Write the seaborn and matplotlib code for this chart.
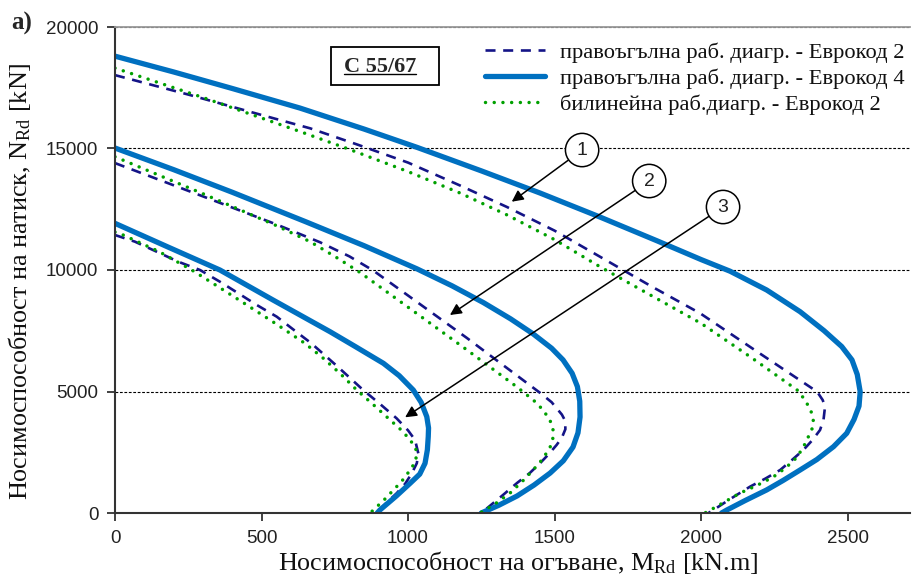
import numpy as np
import pandas as pd
import matplotlib
matplotlib.use('Agg')
import matplotlib.pyplot as plt
import seaborn as sns

# interaction curves M_Rd - N_Rd (three sections)
# series: rectangular EC2 (dashed), rectangular EC4 (solid), bilinear EC2 (dotted)

# section 1 (outer curves)
m1_rect_ec2 = [0, 250, 500, 666, 830, 1000, 1177, 1338, 1500, 1655, 1830, 1997, 2200, 2396,
               2415, 2423, 2418, 2406, 2380, 2349, 2310, 2270, 2220, 2167, 2100, 2042, 2025]
n1_rect_ec2 = [18020, 17220, 16380, 15830, 15150, 14420, 13480, 12590, 11620, 10547, 9330, 8217, 6570, 4992,
               4650, 4375, 3850, 3415, 3000, 2592, 2180, 1770, 1420, 1083, 580, 123, 0]
m1_rect_ec4 = [0, 200, 400, 631, 850, 1030, 1250, 1450, 1655, 1850, 2000, 2099, 2224, 2338, 2420, 2480,
               2515, 2533, 2543, 2539, 2522, 2497, 2452, 2395, 2338, 2280, 2224, 2150, 2088, 2070]
n1_rect_ec4 = [18800, 18150, 17470, 16665, 15800, 15050, 14080, 13170, 12180, 11200, 10430, 9950, 9176, 8284, 7500, 6850,
               6300, 5700, 4990, 4400, 3850, 3280, 2730, 2200, 1770, 1340, 950, 510, 123, 0]
m1_bilin_ec2 = [0, 300, 631, 792, 1000, 1177, 1338, 1500, 1655, 1830, 2000, 2170, 2328,
                2355, 2375, 2383, 2380, 2372, 2355, 2328, 2290, 2246, 2190, 2133, 2075, 2020, 2012]
n1_bilin_ec2 = [18310, 17100, 15700, 15000, 14050, 13170, 12265, 11250, 10135, 8950, 7805, 6410, 5060,
                4650, 4200, 3830, 3500, 3290, 2850, 2300, 1870, 1480, 1130, 820, 420, 40, 0]

# section 2 (middle curves)
m2_rect_ec2 = [0, 300, 550, 700, 800, 881, 1000, 1200, 1451, 1490, 1525, 1536, 1537, 1525,
               1507, 1480, 1451, 1415, 1372, 1320, 1270, 1245]
n2_rect_ec2 = [14400, 13030, 11880, 11140, 10560, 9980, 8950, 7210, 4940, 4560, 4050, 3800, 3450, 3100,
               2800, 2420, 2055, 1640, 1235, 700, 200, 0]
m2_rect_ec4 = [0, 200, 400, 650, 850, 1030, 1150, 1257, 1350, 1427, 1490, 1529, 1560, 1578, 1586,
               1587, 1580, 1563, 1530, 1485, 1430, 1372, 1310, 1250]
n2_rect_ec4 = [15020, 14130, 13200, 11990, 11000, 10050, 9350, 8660, 7990, 7370, 6780, 6300, 5750, 5200, 4600,
               3950, 3300, 2715, 2150, 1645, 1150, 700, 320, 0]
m2_bilin_ec2 = [0, 300, 550, 666, 750, 836, 1000, 1200, 1372, 1430, 1461, 1485, 1495, 1494,
                1485, 1460, 1427, 1390, 1348, 1300, 1246]
n2_bilin_ec2 = [14660, 13140, 11830, 11165, 10560, 9900, 8470, 6720, 5185, 4620, 4240, 3800, 3415, 3050,
                2715, 2230, 1770, 1300, 820, 400, 0]

# section 3 (inner curves)
m3_rect_ec2 = [0, 68, 154, 216, 290, 358, 421, 484, 552, 614, 670, 760, 847, 905, 961, 1000,
               1024, 1035, 1030, 1013, 990, 961, 925, 890]
n3_rect_ec2 = [11440, 11166, 10687, 10341, 10000, 9518, 9040, 8559, 8078, 7500, 6983, 6020, 5060, 4480, 3896, 3400,
               3004, 2456, 2050, 1633, 1200, 810, 400, 0]
m3_rect_ec4 = [0, 180, 358, 540, 734, 820, 916, 970, 1018, 1045, 1064, 1070, 1069, 1066,
               1058, 1040, 1007, 960, 904, 895]
n3_rect_ec4 = [11920, 10950, 10000, 8760, 7460, 6850, 6160, 5650, 5060, 4550, 3963, 3500, 3140, 2600,
               2045, 1600, 1222, 700, 123, 0]
m3_bilin_ec2 = [0, 28, 150, 262, 350, 450, 550, 648, 711, 770, 825, 885, 939, 980, 1007, 1025,
                1030, 1025, 1007, 985, 961, 920, 880, 870]
n3_bilin_ec2 = [11560, 11440, 10760, 10000, 9330, 8560, 7780, 6983, 6366, 5720, 5060, 4420, 3827, 3380, 3004, 2700,
                2456, 2100, 1770, 1400, 1083, 560, 100, 0]

series_names = ['правоъгълна раб. диагр. - Еврокод 2',
                'правоъгълна раб. диагр. - Еврокод 4',
                'билинейна раб.диагр. - Еврокод 2']
marker_labels = ['1', '2', '3']

curves = [
    (1, series_names[0], m1_rect_ec2, n1_rect_ec2),
    (2, series_names[0], m2_rect_ec2, n2_rect_ec2),
    (3, series_names[0], m3_rect_ec2, n3_rect_ec2),
    (1, series_names[1], m1_rect_ec4, n1_rect_ec4),
    (2, series_names[1], m2_rect_ec4, n2_rect_ec4),
    (3, series_names[1], m3_rect_ec4, n3_rect_ec4),
    (1, series_names[2], m1_bilin_ec2, n1_bilin_ec2),
    (2, series_names[2], m2_bilin_ec2, n2_bilin_ec2),
    (3, series_names[2], m3_bilin_ec2, n3_bilin_ec2),
]
df = pd.concat([pd.DataFrame({'M': m, 'N': n, 'section': g, 'series': s})
                for g, s, m, n in curves], ignore_index=True)

sns.set_theme(style='white')
plt.rcParams['font.family'] = ['Liberation Serif', 'DejaVu Serif']
plt.rcParams['mathtext.fontset'] = 'stix'

styles = {
    series_names[0]: dict(color='#141487', lw=1.9, ls=(0, (3.8, 2.9)), dash_capstyle='butt'),
    series_names[1]: dict(color='#0070c0', lw=3.8, ls='-', solid_capstyle='round'),
    series_names[2]: dict(color='#00a000', lw=2.5, ls=(0, (0.01, 2.5)), dash_capstyle='round'),
}

fig = plt.figure(figsize=(9.13, 5.81), dpi=100)
ax = fig.add_axes([115 / 913, 1 - 513 / 581, 795 / 913, 486 / 581])

for s in series_names:
    for g in [1, 2, 3]:
        sub = df[(df['series'] == s) & (df['section'] == g)]
        st = styles[s]
        sns.lineplot(data=sub, x='M', y='N', sort=False, estimator=None, ax=ax,
                     color=st['color'], linewidth=st['lw'], linestyle=st['ls'],
                     label=s if g == 1 else '_nolegend_',
                     **{k: v for k, v in st.items() if k.endswith('capstyle')})

ax.set_xlim(0, 2713)
ax.set_ylim(0, 20000)
ax.set_xticks(np.arange(0, 2501, 500))
ax.set_yticks(np.arange(0, 20001, 5000))
ax.grid(axis='y', color='black', linestyle=(0, (2.5, 1.5)), linewidth=0.8)
ax.grid(axis='x', visible=False)

for side in ['left', 'bottom']:
    ax.spines[side].set_color('#333333')
    ax.spines[side].set_linewidth(1.5)
ax.spines['top'].set_color('#999999')
ax.spines['top'].set_linewidth(1.3)
ax.spines['right'].set_visible(False)
ax.tick_params(axis='both', direction='out', length=6, width=1.3, color='#333333',
               labelsize=13.5, pad=6, bottom=True, left=True)
for lab in ax.get_xticklabels() + ax.get_yticklabels():
    lab.set_family('Liberation Sans')
    lab.set_color('#222222')

ax.set_xlabel(r'Носимоспособност на огъване, M$\mathregular{_{Rd}}$ [kN.m]', fontsize=18.8, color='#111111')
ax.set_ylabel(r'Носимоспособност на натиск, N$\mathregular{_{Rd}}$ [kN]', fontsize=18.8, color='#111111')
ax.xaxis.set_label_coords(0.507, -0.075)
ax.yaxis.set_label_coords(-0.103, 0.477)

leg = ax.legend(loc='upper right', bbox_to_anchor=(1.01, 0.997), frameon=False, fontsize=16.2,
                handlelength=2.67, handletextpad=0.67, labelspacing=0.23, borderaxespad=0.2)
for t in leg.get_texts():
    t.set_color('#111111')

# concrete class label
ax.add_patch(plt.Rectangle((0.2717, 0.8807), 0.1358, 0.0781, transform=ax.transAxes,
                           fill=True, fc='white', ec='black', lw=1.3, zorder=4))
cls = ax.text(0.333, 0.918, 'C 55/67', transform=ax.transAxes, ha='center', va='center',
              fontsize=16, fontweight='bold', zorder=5)
fig.canvas.draw()
bb = cls.get_window_extent().transformed(ax.transAxes.inverted())
ax.plot([bb.x0, bb.x1], [bb.y0 + 0.006, bb.y0 + 0.006], transform=ax.transAxes,
        color='black', lw=1, zorder=5)

# numbered callouts
circle_pos = [(1594, 14937), (1823, 13662), (2075, 12592)]
tip_pos = [(1354, 12810), (1143, 8148), (990, 3938)]
for lbl, (cx, cy), (tx, ty) in zip(marker_labels, circle_pos, tip_pos):
    ax.annotate(lbl, xy=(tx, ty), xytext=(cx, cy), ha='center', va='center',
                fontsize=14, family='Liberation Sans', color='#222222', zorder=6,
                bbox=dict(boxstyle='circle,pad=0.42', fc='white', ec='black', lw=1.1),
                arrowprops=dict(arrowstyle='-|>', color='black', lw=1.1,
                                mutation_scale=17, shrinkA=0, shrinkB=0))

fig.text(11 / 913, 1 - 23 / 581, 'a)', fontsize=18, fontweight='bold', va='center', ha='left')

fig.savefig('out.png', dpi=100)
